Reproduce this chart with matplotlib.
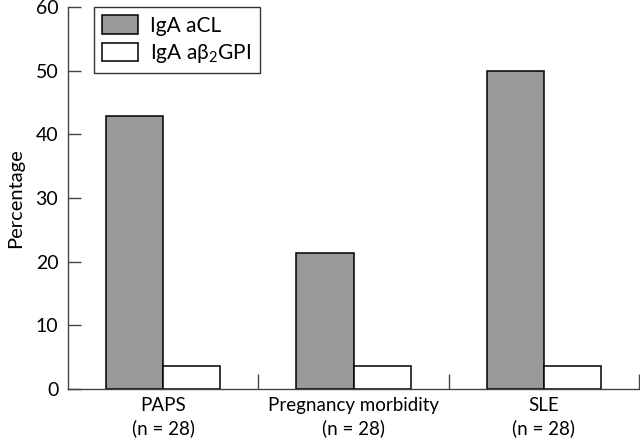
import matplotlib
matplotlib.use("Agg")
import matplotlib.pyplot as plt
import numpy as np

categories = ["PAPS\n(n = 28)", "Pregnancy morbidity\n(n = 28)", "SLE\n(n = 28)"]
acl_values = [42.86, 21.43, 50.0]
b2gpi_values = [3.57, 3.57, 3.57]
series_labels = ["IgA aCL", "IgA aβ$_\\mathregular{2}$GPI"]
yticks = [0, 10, 20, 30, 40, 50, 60]

plt.rcParams['font.family'] = ['Lato', 'DejaVu Sans']

fig = plt.figure(figsize=(6.4, 4.38), dpi=100)
ax = fig.add_axes([68/640, 1-389/438, 571/640, 382/438])

x = np.arange(len(categories))
w = 0.3
ax.bar(x - w/2, acl_values, w, color="#999999", edgecolor="black", linewidth=1.1, label=series_labels[0])
ax.bar(x + w/2, b2gpi_values, w, color="white", edgecolor="black", linewidth=1.1, label=series_labels[1])

ax.set_xlim(-0.5, 2.5)
ax.set_ylim(0, 60)
ax.set_yticks(yticks)
ax.set_xticks(x)
ax.set_xticklabels(categories, fontsize=13.5, linespacing=1.35)
ax.set_xticks([0.5, 1.5, 2.5], minor=True)
ax.tick_params(axis='x', which='major', length=0, pad=6)
ax.tick_params(axis='x', which='minor', direction='in', length=11, width=1, color="#444444")
ax.tick_params(axis='y', direction='in', length=9.5, width=1, color="#444444", labelsize=14, pad=7)
ax.set_ylabel("Percentage", fontsize=14.5, labelpad=8)

for s in ['top', 'right']:
    ax.spines[s].set_visible(False)
for s in ['left', 'bottom']:
    ax.spines[s].set_color("#444444")
    ax.spines[s].set_linewidth(1)

leg = ax.legend(loc='upper left', bbox_to_anchor=(94/640, 1-7/438), bbox_transform=fig.transFigure,
                borderaxespad=0, fancybox=False, frameon=True, fontsize=15,
                handlelength=1.7, handleheight=1.0, handletextpad=0.6, labelspacing=0.3,
                borderpad=0.4)
leg.get_frame().set_edgecolor("black")
leg.get_frame().set_linewidth(1)

fig.savefig("out.png", dpi=100)
